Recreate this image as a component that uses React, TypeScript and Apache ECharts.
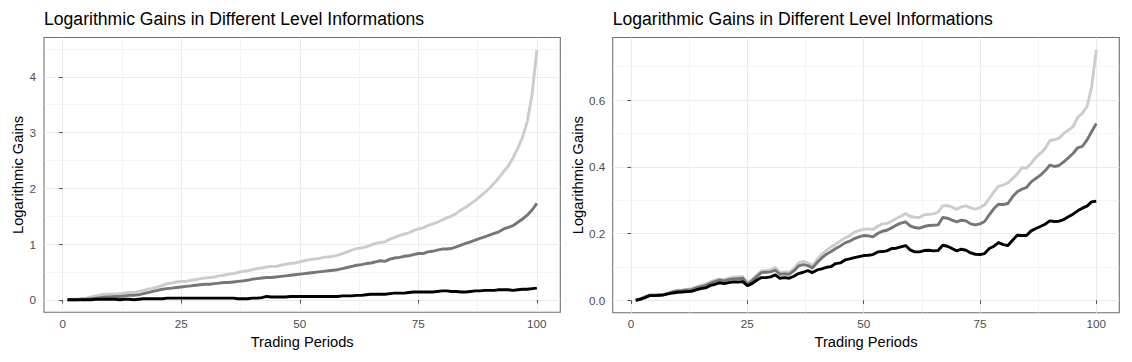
import React, { useEffect, useRef } from "react";
import * as echarts from "echarts";

const TITLE = "Logarithmic Gains in Different Level Informations";
const X_NAME = "Trading Periods";
const Y_NAME = "Logarithmic Gains";

const periods = Array.from({ length: 100 }, (_, i) => i + 1);

const xTicks = [0, 25, 50, 75, 100];
const xMinor = [12.5, 37.5, 62.5, 87.5];
const leftYTicks = [0, 1, 2, 3, 4];
const leftYMinor = [0.5, 1.5, 2.5, 3.5, 4.5];
const rightYTicks = [0, 0.2, 0.4, 0.6];
const rightYMinor = [0.1, 0.3, 0.5, 0.7];

// Left panel
const leftHigh = [
  0.00, 0.01, 0.01, 0.02, 0.03, 0.05, 0.07, 0.09, 0.10, 0.10,
  0.10, 0.11, 0.12, 0.13, 0.13, 0.15, 0.17, 0.19, 0.21, 0.23,
  0.26, 0.29, 0.30, 0.32, 0.33, 0.33, 0.35, 0.36, 0.38, 0.39,
  0.40, 0.41, 0.43, 0.44, 0.46, 0.47, 0.49, 0.51, 0.52, 0.54,
  0.56, 0.57, 0.59, 0.60, 0.60, 0.62, 0.64, 0.65, 0.66, 0.68,
  0.70, 0.72, 0.73, 0.74, 0.76, 0.77, 0.78, 0.80, 0.83, 0.86,
  0.89, 0.92, 0.93, 0.95, 0.98, 1.01, 1.03, 1.04, 1.09, 1.12,
  1.15, 1.18, 1.20, 1.24, 1.27, 1.29, 1.33, 1.36, 1.39, 1.43,
  1.47, 1.50, 1.55, 1.61, 1.66, 1.72, 1.78, 1.85, 1.92, 2.00,
  2.09, 2.19, 2.30, 2.40, 2.55, 2.72, 2.92, 3.20, 3.68, 4.48,
];
const leftMid = [
  0.00, 0.00, 0.00, 0.01, 0.01, 0.02, 0.03, 0.04, 0.05, 0.05,
  0.06, 0.06, 0.07, 0.08, 0.08, 0.09, 0.11, 0.13, 0.15, 0.17,
  0.19, 0.20, 0.21, 0.22, 0.23, 0.24, 0.25, 0.26, 0.27, 0.28,
  0.28, 0.29, 0.30, 0.31, 0.31, 0.32, 0.33, 0.34, 0.35, 0.37,
  0.38, 0.39, 0.40, 0.40, 0.41, 0.42, 0.43, 0.44, 0.45, 0.46,
  0.47, 0.48, 0.49, 0.50, 0.51, 0.52, 0.53, 0.54, 0.56, 0.58,
  0.60, 0.62, 0.63, 0.65, 0.66, 0.68, 0.70, 0.69, 0.73, 0.75,
  0.76, 0.78, 0.79, 0.81, 0.83, 0.83, 0.86, 0.87, 0.89, 0.91,
  0.91, 0.92, 0.95, 0.98, 1.01, 1.04, 1.07, 1.10, 1.13, 1.16,
  1.19, 1.22, 1.27, 1.30, 1.33, 1.39, 1.45, 1.52, 1.61, 1.73,
];
const leftLow = [
  0.00, 0.00, 0.00, 0.00, 0.00, 0.00, 0.01, 0.01, 0.01, 0.01,
  0.01, 0.00, 0.01, 0.01, 0.00, 0.01, 0.02, 0.02, 0.02, 0.02,
  0.02, 0.03, 0.03, 0.03, 0.03, 0.03, 0.03, 0.03, 0.03, 0.03,
  0.03, 0.03, 0.03, 0.03, 0.03, 0.03, 0.02, 0.02, 0.02, 0.03,
  0.03, 0.04, 0.06, 0.05, 0.05, 0.05, 0.05, 0.06, 0.06, 0.06,
  0.06, 0.06, 0.06, 0.06, 0.06, 0.06, 0.06, 0.06, 0.07, 0.07,
  0.07, 0.08, 0.08, 0.09, 0.10, 0.10, 0.10, 0.10, 0.11, 0.12,
  0.12, 0.12, 0.13, 0.14, 0.14, 0.14, 0.14, 0.14, 0.15, 0.16,
  0.16, 0.15, 0.15, 0.14, 0.14, 0.15, 0.16, 0.16, 0.17, 0.17,
  0.17, 0.18, 0.18, 0.18, 0.17, 0.18, 0.19, 0.19, 0.20, 0.21,
];

// Right panel
const rightHigh = [
  0.000, 0.004, 0.010, 0.016, 0.016, 0.016, 0.018, 0.022, 0.027, 0.030,
  0.031, 0.033, 0.035, 0.040, 0.045, 0.048, 0.055, 0.060, 0.064, 0.062,
  0.066, 0.069, 0.070, 0.071, 0.052, 0.062, 0.075, 0.088, 0.089, 0.091,
  0.098, 0.083, 0.085, 0.084, 0.095, 0.112, 0.117, 0.112, 0.104, 0.122,
  0.138, 0.150, 0.160, 0.168, 0.178, 0.187, 0.193, 0.204, 0.209, 0.213,
  0.214, 0.212, 0.222, 0.229, 0.230, 0.237, 0.245, 0.252, 0.260, 0.251,
  0.249, 0.248, 0.256, 0.258, 0.259, 0.264, 0.283, 0.284, 0.279, 0.273,
  0.280, 0.283, 0.277, 0.273, 0.278, 0.286, 0.305, 0.325, 0.342, 0.345,
  0.352, 0.365, 0.378, 0.397, 0.396, 0.410, 0.428, 0.440, 0.455, 0.478,
  0.481, 0.486, 0.500, 0.510, 0.520, 0.548, 0.560, 0.580, 0.638, 0.751,
];
const rightMid = [
  0.000, 0.004, 0.010, 0.015, 0.015, 0.015, 0.017, 0.021, 0.025, 0.028,
  0.029, 0.031, 0.032, 0.037, 0.041, 0.044, 0.051, 0.056, 0.060, 0.058,
  0.062, 0.064, 0.065, 0.066, 0.049, 0.058, 0.071, 0.083, 0.084, 0.085,
  0.090, 0.078, 0.079, 0.078, 0.088, 0.103, 0.107, 0.104, 0.097, 0.113,
  0.127, 0.138, 0.146, 0.155, 0.163, 0.172, 0.177, 0.185, 0.190, 0.194,
  0.193, 0.190, 0.200, 0.207, 0.210, 0.217, 0.225, 0.231, 0.235, 0.223,
  0.218, 0.216, 0.221, 0.224, 0.225, 0.226, 0.248, 0.246, 0.240, 0.235,
  0.240, 0.238, 0.229, 0.226, 0.229, 0.236, 0.256, 0.275, 0.288, 0.287,
  0.290, 0.310, 0.325, 0.333, 0.338, 0.355, 0.365, 0.375, 0.388, 0.405,
  0.401, 0.404, 0.415, 0.427, 0.440, 0.457, 0.461, 0.480, 0.505, 0.530,
];
const rightLow = [
  0.000, 0.003, 0.008, 0.014, 0.014, 0.015, 0.016, 0.019, 0.022, 0.024,
  0.025, 0.026, 0.027, 0.031, 0.035, 0.037, 0.044, 0.048, 0.052, 0.050,
  0.053, 0.055, 0.055, 0.056, 0.044, 0.050, 0.060, 0.068, 0.068, 0.070,
  0.076, 0.066, 0.068, 0.066, 0.072, 0.080, 0.084, 0.089, 0.083, 0.091,
  0.094, 0.099, 0.101, 0.110, 0.112, 0.121, 0.124, 0.128, 0.131, 0.134,
  0.135, 0.137, 0.145, 0.146, 0.148, 0.155, 0.156, 0.160, 0.164, 0.151,
  0.145, 0.145, 0.149, 0.150, 0.148, 0.149, 0.165, 0.162, 0.155, 0.148,
  0.153, 0.150, 0.142, 0.138, 0.137, 0.140, 0.155, 0.162, 0.173, 0.167,
  0.164, 0.180, 0.195, 0.194, 0.194, 0.208, 0.215, 0.221, 0.228, 0.238,
  0.236, 0.237, 0.242, 0.250, 0.258, 0.268, 0.276, 0.282, 0.295, 0.297,
];

const FONT = "Liberation Sans, Arial, Helvetica, sans-serif";
const COLOR_HIGH = "#CCCCCC";
const COLOR_MID = "#767676";
const COLOR_LOW = "#000000";
const BORDER = "#6E6E6E";

function pairs(vals: number[]) {
  return periods.map((p, i) => [p, vals[i]]);
}

function mainAxis(
  dim: "x" | "y",
  gridIndex: number,
  min: number,
  max: number,
  ticks: number[],
  fmt: (v: number) => string,
  name: string,
  nameGap: number,
  labelMargin: number
) {
  return {
    type: "value",
    gridIndex,
    min,
    max,
    position: dim === "x" ? "bottom" : "left",
    name,
    nameLocation: "middle",
    nameGap,
    nameTextStyle: { fontSize: 14.67, color: "#000000", fontFamily: FONT },
    axisLine: { show: false },
    axisTick: {
      show: true,
      length: 3.67,
      customValues: ticks,
      lineStyle: { color: "#555555", width: 1.07 },
    },
    axisLabel: {
      show: true,
      customValues: ticks,
      formatter: (v: number) => fmt(v),
      color: "#4D4D4D",
      fontSize: 11.7,
      fontFamily: FONT,
      margin: labelMargin,
      showMinLabel: true,
      showMaxLabel: true,
    },
    splitLine: { show: false },
    z: 3,
  };
}

function gridAxis(
  dim: "x" | "y",
  gridIndex: number,
  min: number,
  max: number,
  values: number[],
  width: number
) {
  return {
    type: "value",
    gridIndex,
    min,
    max,
    position: dim === "x" ? "bottom" : "left",
    axisLine: { show: false },
    axisTick: { show: false, customValues: values },
    axisLabel: { show: false, customValues: values },
    splitLine: { show: true, lineStyle: { color: "#EBEBEB", width } },
    z: 1,
  };
}

export default function App() {
  const ref = useRef<HTMLDivElement>(null);

  useEffect(() => {
    if (!ref.current) return;
    const chart = echarts.init(ref.current, null, { renderer: "svg" });

    const xMin = -3.95;
    const xMax = 104.95;
    const lyMin = -0.224;
    const lyMax = 4.704;
    const ryMin = -0.0375;
    const ryMax = 0.7875;

    const fmtInt = (v: number) => String(Math.round(v));
    const fmtOne = (v: number) => v.toFixed(1);

    const line = (
      name: string,
      vals: number[],
      color: string,
      axisIdx: number,
      z: number
    ) => ({
      name,
      type: "line",
      xAxisIndex: axisIdx,
      yAxisIndex: axisIdx,
      data: pairs(vals),
      showSymbol: false,
      symbol: "none",
      silent: true,
      z,
      lineStyle: { color, width: 2.9, join: "round", cap: "butt" },
      emphasis: { disabled: true },
    });

    const titleStyle = {
      fontSize: 17.6,
      fontWeight: "normal",
      color: "#000000",
      fontFamily: FONT,
    };

    chart.setOption({
      animation: false,
      backgroundColor: "#FFFFFF",
      title: [
        { text: TITLE, left: 44, top: 10, padding: 0, textStyle: titleStyle },
        { text: TITLE, left: 612.7, top: 10, padding: 0, textStyle: titleStyle },
      ],
      grid: [
        {
          left: 44,
          top: 37.5,
          width: 516.3,
          height: 274.8,
          show: true,
          borderColor: BORDER,
          borderWidth: 1.07,
          backgroundColor: "transparent",
          containLabel: false,
        },
        {
          left: 612.7,
          top: 37.5,
          width: 506.6,
          height: 275.3,
          show: true,
          borderColor: BORDER,
          borderWidth: 1.07,
          backgroundColor: "transparent",
          containLabel: false,
        },
      ],
      xAxis: [
        mainAxis("x", 0, xMin, xMax, xTicks, fmtInt, X_NAME, 20, 5),
        mainAxis("x", 1, xMin, xMax, xTicks, fmtInt, X_NAME, 20, 5),
        gridAxis("x", 0, xMin, xMax, xTicks, 1.07),
        gridAxis("x", 0, xMin, xMax, xMinor, 0.53),
        gridAxis("x", 1, xMin, xMax, xTicks, 1.07),
        gridAxis("x", 1, xMin, xMax, xMinor, 0.53),
      ],
      yAxis: [
        mainAxis("y", 0, lyMin, lyMax, leftYTicks, fmtInt, Y_NAME, 18, 8),
        mainAxis("y", 1, ryMin, ryMax, rightYTicks, fmtOne, Y_NAME, 27, 7.5),
        gridAxis("y", 0, lyMin, lyMax, leftYTicks, 1.07),
        gridAxis("y", 0, lyMin, lyMax, leftYMinor, 0.53),
        gridAxis("y", 1, ryMin, ryMax, rightYTicks, 1.07),
        gridAxis("y", 1, ryMin, ryMax, rightYMinor, 0.53),
      ],
      series: [
        line("High", leftHigh, COLOR_HIGH, 0, 2),
        line("Mid", leftMid, COLOR_MID, 0, 3),
        line("Low", leftLow, COLOR_LOW, 0, 4),
        line("High", rightHigh, COLOR_HIGH, 1, 2),
        line("Mid", rightMid, COLOR_MID, 1, 3),
        line("Low", rightLow, COLOR_LOW, 1, 4),
      ],
    });

    return () => chart.dispose();
  }, []);

  return (
    <div
      ref={ref}
      style={{ position: "absolute", left: 0, top: 0, width: 1132, height: 362 }}
    />
  );
}
